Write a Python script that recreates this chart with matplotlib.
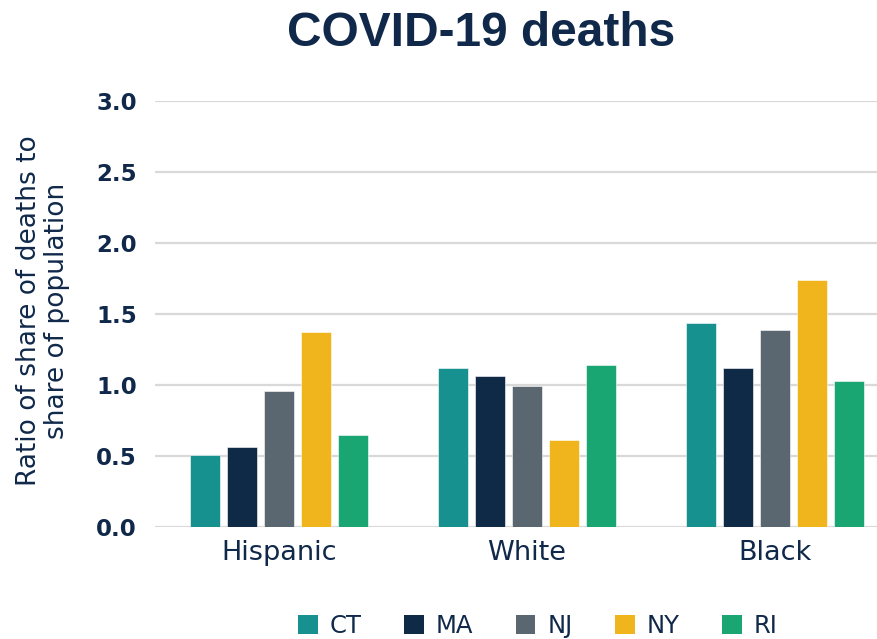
import matplotlib
matplotlib.use("Agg")
import matplotlib.pyplot as plt
import numpy as np
from matplotlib.patches import Patch

categories = ["Hispanic", "White", "Black"]
states = ["CT", "MA", "NJ", "NY", "RI"]
CT = [0.51, 1.12, 1.44]
MA = [0.56, 1.06, 1.12]
NJ = [0.96, 0.99, 1.39]
NY = [1.37, 0.61, 1.74]
RI = [0.65, 1.14, 1.03]
series = [CT, MA, NJ, NY, RI]
colors = ["#17918f", "#0f2a47", "#5b6770", "#f0b51d", "#19a673"]
y_ticks = [0.0, 0.5, 1.0, 1.5, 2.0, 2.5, 3.0]

navy = "#10294a"
font = "DejaVu Sans"

fig = plt.figure(figsize=(8.78, 6.39), dpi=100)
# axes extends slightly beyond the right edge (chart is cropped in the reference)
ax = fig.add_axes([155/878, 1-527/639, 744/878, 426/639])

group_x = np.arange(len(categories))
step = 0.149
width = 0.121
for i, (vals, c) in enumerate(zip(series, colors)):
    ax.bar(group_x + (i - 2) * step, vals, width=width, color=c,
           edgecolor="white", linewidth=0.4, zorder=3)

ax.set_ylim(0, 3.0)
ax.set_xlim(-0.5, 2.5)
ax.set_yticks(y_ticks)
ax.set_yticklabels([f"{v:.1f}" for v in y_ticks], fontsize=16.5, fontweight="bold",
                   color=navy, family=font)
ax.set_xticks(group_x)
ax.set_xticklabels(categories, fontsize=19.5, color=navy, family=font)
ax.tick_params(axis="both", length=0)
ax.tick_params(axis="y", pad=13)
ax.tick_params(axis="x", pad=9)
ax.grid(axis="y", color="#d9d9d9", linewidth=1.6, zorder=0)
for s in ax.spines.values():
    s.set_visible(False)

fig.text(43/878, 1-311/639, "Ratio of share of deaths to\nshare of population", rotation=90,
         ha="center", va="center", fontsize=19, color=navy, family=font,
         linespacing=1.08)

fig.text(481/878, 1-33/639, "COVID-19 deaths", ha="center", va="center",
         fontsize=34.5, fontweight="bold", color=navy, family="Liberation Sans")

handles = [Patch(facecolor=c, edgecolor="none") for c in colors]
fig.legend(handles, states, loc="center", bbox_to_anchor=(538/878, 1-626/639),
           ncol=5, frameon=False, handlelength=0.8, handleheight=0.8,
           handletextpad=0.5, columnspacing=1.75, labelcolor=navy,
           prop={"family": font, "size": 17.5}, borderpad=0, borderaxespad=0)

fig.savefig("out.png", dpi=100)
